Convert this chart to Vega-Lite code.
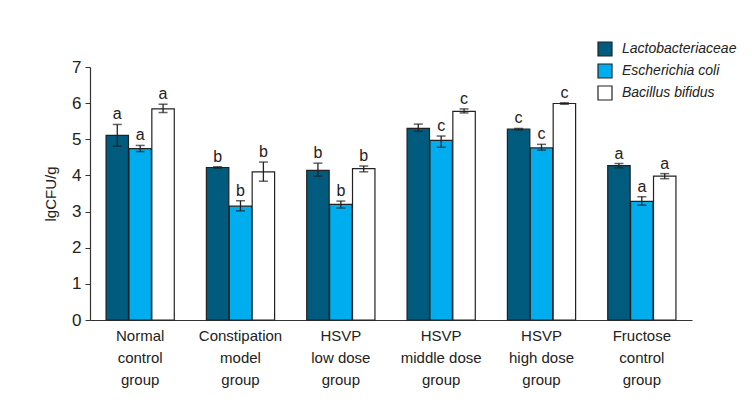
{
  "$schema": "https://vega.github.io/schema/vega-lite/v6.json",
  "autosize": "none",
  "width": 602,
  "height": 253,
  "padding": {"left": 90, "top": 67, "right": 60, "bottom": 98},
  "background": "white",
  "config": {
    "font": "Liberation Sans, Arial, sans-serif",
    "view": {"stroke": null},
    "axisY": {
      "values": [0, 1, 2, 3, 4, 5, 6, 7],
      "grid": false,
      "labelFontSize": 17,
      "labelColor": "#222",
      "labelPadding": 4,
      "tickSize": 5,
      "tickColor": "#333",
      "domainColor": "#333",
      "domainWidth": 1.2,
      "titleFontSize": 15,
      "titleFontWeight": "normal",
      "titleColor": "#222",
      "titlePadding": 13
    },
    "axisX": {
      "labelAngle": 0,
      "labelFontSize": 15,
      "labelColor": "#222",
      "labelLineHeight": 22,
      "labelPadding": 8,
      "labelBaseline": "top",
      "ticks": false,
      "domainColor": "#333",
      "domainWidth": 1.2
    }
  },
  "data": {
    "values": [
      {"group": "Normal control group", "species": "Lactobacteriaceae", "value": 5.11, "lo": 4.81, "hi": 5.41, "letter": "a"},
      {"group": "Normal control group", "species": "Escherichia coli", "value": 4.74, "lo": 4.66, "hi": 4.83, "letter": "a"},
      {"group": "Normal control group", "species": "Bacillus bifidus", "value": 5.84, "lo": 5.74, "hi": 5.97, "letter": "a"},
      {"group": "Constipation model group", "species": "Lactobacteriaceae", "value": 4.22, "lo": 4.2, "hi": 4.24, "letter": "b"},
      {"group": "Constipation model group", "species": "Escherichia coli", "value": 3.15, "lo": 3.02, "hi": 3.3, "letter": "b"},
      {"group": "Constipation model group", "species": "Bacillus bifidus", "value": 4.1, "lo": 3.84, "hi": 4.37, "letter": "b"},
      {"group": "HSVP low dose group", "species": "Lactobacteriaceae", "value": 4.14, "lo": 3.98, "hi": 4.34, "letter": "b"},
      {"group": "HSVP low dose group", "species": "Escherichia coli", "value": 3.2, "lo": 3.1, "hi": 3.29, "letter": "b"},
      {"group": "HSVP low dose group", "species": "Bacillus bifidus", "value": 4.19, "lo": 4.1, "hi": 4.26, "letter": "b"},
      {"group": "HSVP middle dose group", "species": "Lactobacteriaceae", "value": 5.3, "lo": 5.22, "hi": 5.42, "letter": ""},
      {"group": "HSVP middle dose group", "species": "Escherichia coli", "value": 4.97, "lo": 4.78, "hi": 5.09, "letter": "c"},
      {"group": "HSVP middle dose group", "species": "Bacillus bifidus", "value": 5.77, "lo": 5.73, "hi": 5.84, "letter": "c"},
      {"group": "HSVP high dose group", "species": "Lactobacteriaceae", "value": 5.28, "lo": 5.26, "hi": 5.3, "letter": "c"},
      {"group": "HSVP high dose group", "species": "Escherichia coli", "value": 4.76, "lo": 4.7, "hi": 4.86, "letter": "c"},
      {"group": "HSVP high dose group", "species": "Bacillus bifidus", "value": 5.99, "lo": 5.97, "hi": 6.01, "letter": "c"},
      {"group": "Fructose control group", "species": "Lactobacteriaceae", "value": 4.27, "lo": 4.21, "hi": 4.33, "letter": "a"},
      {"group": "Fructose control group", "species": "Escherichia coli", "value": 3.28, "lo": 3.18, "hi": 3.41, "letter": "a"},
      {"group": "Fructose control group", "species": "Bacillus bifidus", "value": 3.98, "lo": 3.91, "hi": 4.05, "letter": "a"}
    ]
  },
  "encoding": {
    "x": {
      "field": "group",
      "type": "nominal",
      "sort": null,
      "scale": {"paddingInner": 0.32, "paddingOuter": 0.16},
      "axis": {
        "title": null,
        "labelExpr": "datum.value == 'HSVP low dose group' ? ['HSVP', 'low dose', 'group'] : datum.value == 'HSVP middle dose group' ? ['HSVP', 'middle dose', 'group'] : datum.value == 'HSVP high dose group' ? ['HSVP', 'high dose', 'group'] : split(datum.value, ' ')"
      }
    },
    "xOffset": {
      "field": "species",
      "type": "nominal",
      "sort": ["Lactobacteriaceae", "Escherichia coli", "Bacillus bifidus"],
      "scale": {"paddingInner": 0.02}
    }
  },
  "layer": [
    {
      "mark": {"type": "bar", "stroke": "#222", "strokeWidth": 1.2},
      "encoding": {
        "y": {
          "field": "value",
          "type": "quantitative",
          "scale": {"domain": [0, 7]},
          "axis": {"title": "lgCFU/g"}
        },
        "color": {
          "field": "species",
          "type": "nominal",
          "sort": ["Lactobacteriaceae", "Escherichia coli", "Bacillus bifidus"],
          "scale": {"domain": ["Lactobacteriaceae", "Escherichia coli", "Bacillus bifidus"], "range": ["#005b7f", "#00aeef", "#ffffff"]},
          "legend": {
            "title": null,
            "orient": "none",
            "legendX": 507,
            "legendY": -26,
            "padding": 0,
            "symbolType": "square",
            "symbolSize": 196,
            "symbolStrokeColor": "#222",
            "symbolStrokeWidth": 1.2,
            "labelFontSize": 14,
            "labelFontStyle": "italic",
            "labelColor": "#222",
            "labelOffset": 9,
            "rowPadding": 2
          }
        }
      }
    },
    {
      "mark": {"type": "rule", "color": "#222", "strokeWidth": 1.3},
      "encoding": {
        "y": {"field": "lo", "type": "quantitative", "title": "lgCFU/g"},
        "y2": {"field": "hi"}
      }
    },
    {
      "mark": {"type": "tick", "color": "#222", "size": 9, "thickness": 1.5},
      "encoding": {"y": {"field": "lo", "type": "quantitative", "title": "lgCFU/g"}}
    },
    {
      "mark": {"type": "tick", "color": "#222", "size": 9, "thickness": 1.5},
      "encoding": {"y": {"field": "hi", "type": "quantitative", "title": "lgCFU/g"}}
    },
    {
      "mark": {"type": "text", "baseline": "alphabetic", "dy": -5, "fontSize": 16, "color": "#222"},
      "encoding": {
        "y": {"field": "hi", "type": "quantitative", "title": "lgCFU/g"},
        "text": {"field": "letter"}
      }
    }
  ]
}
